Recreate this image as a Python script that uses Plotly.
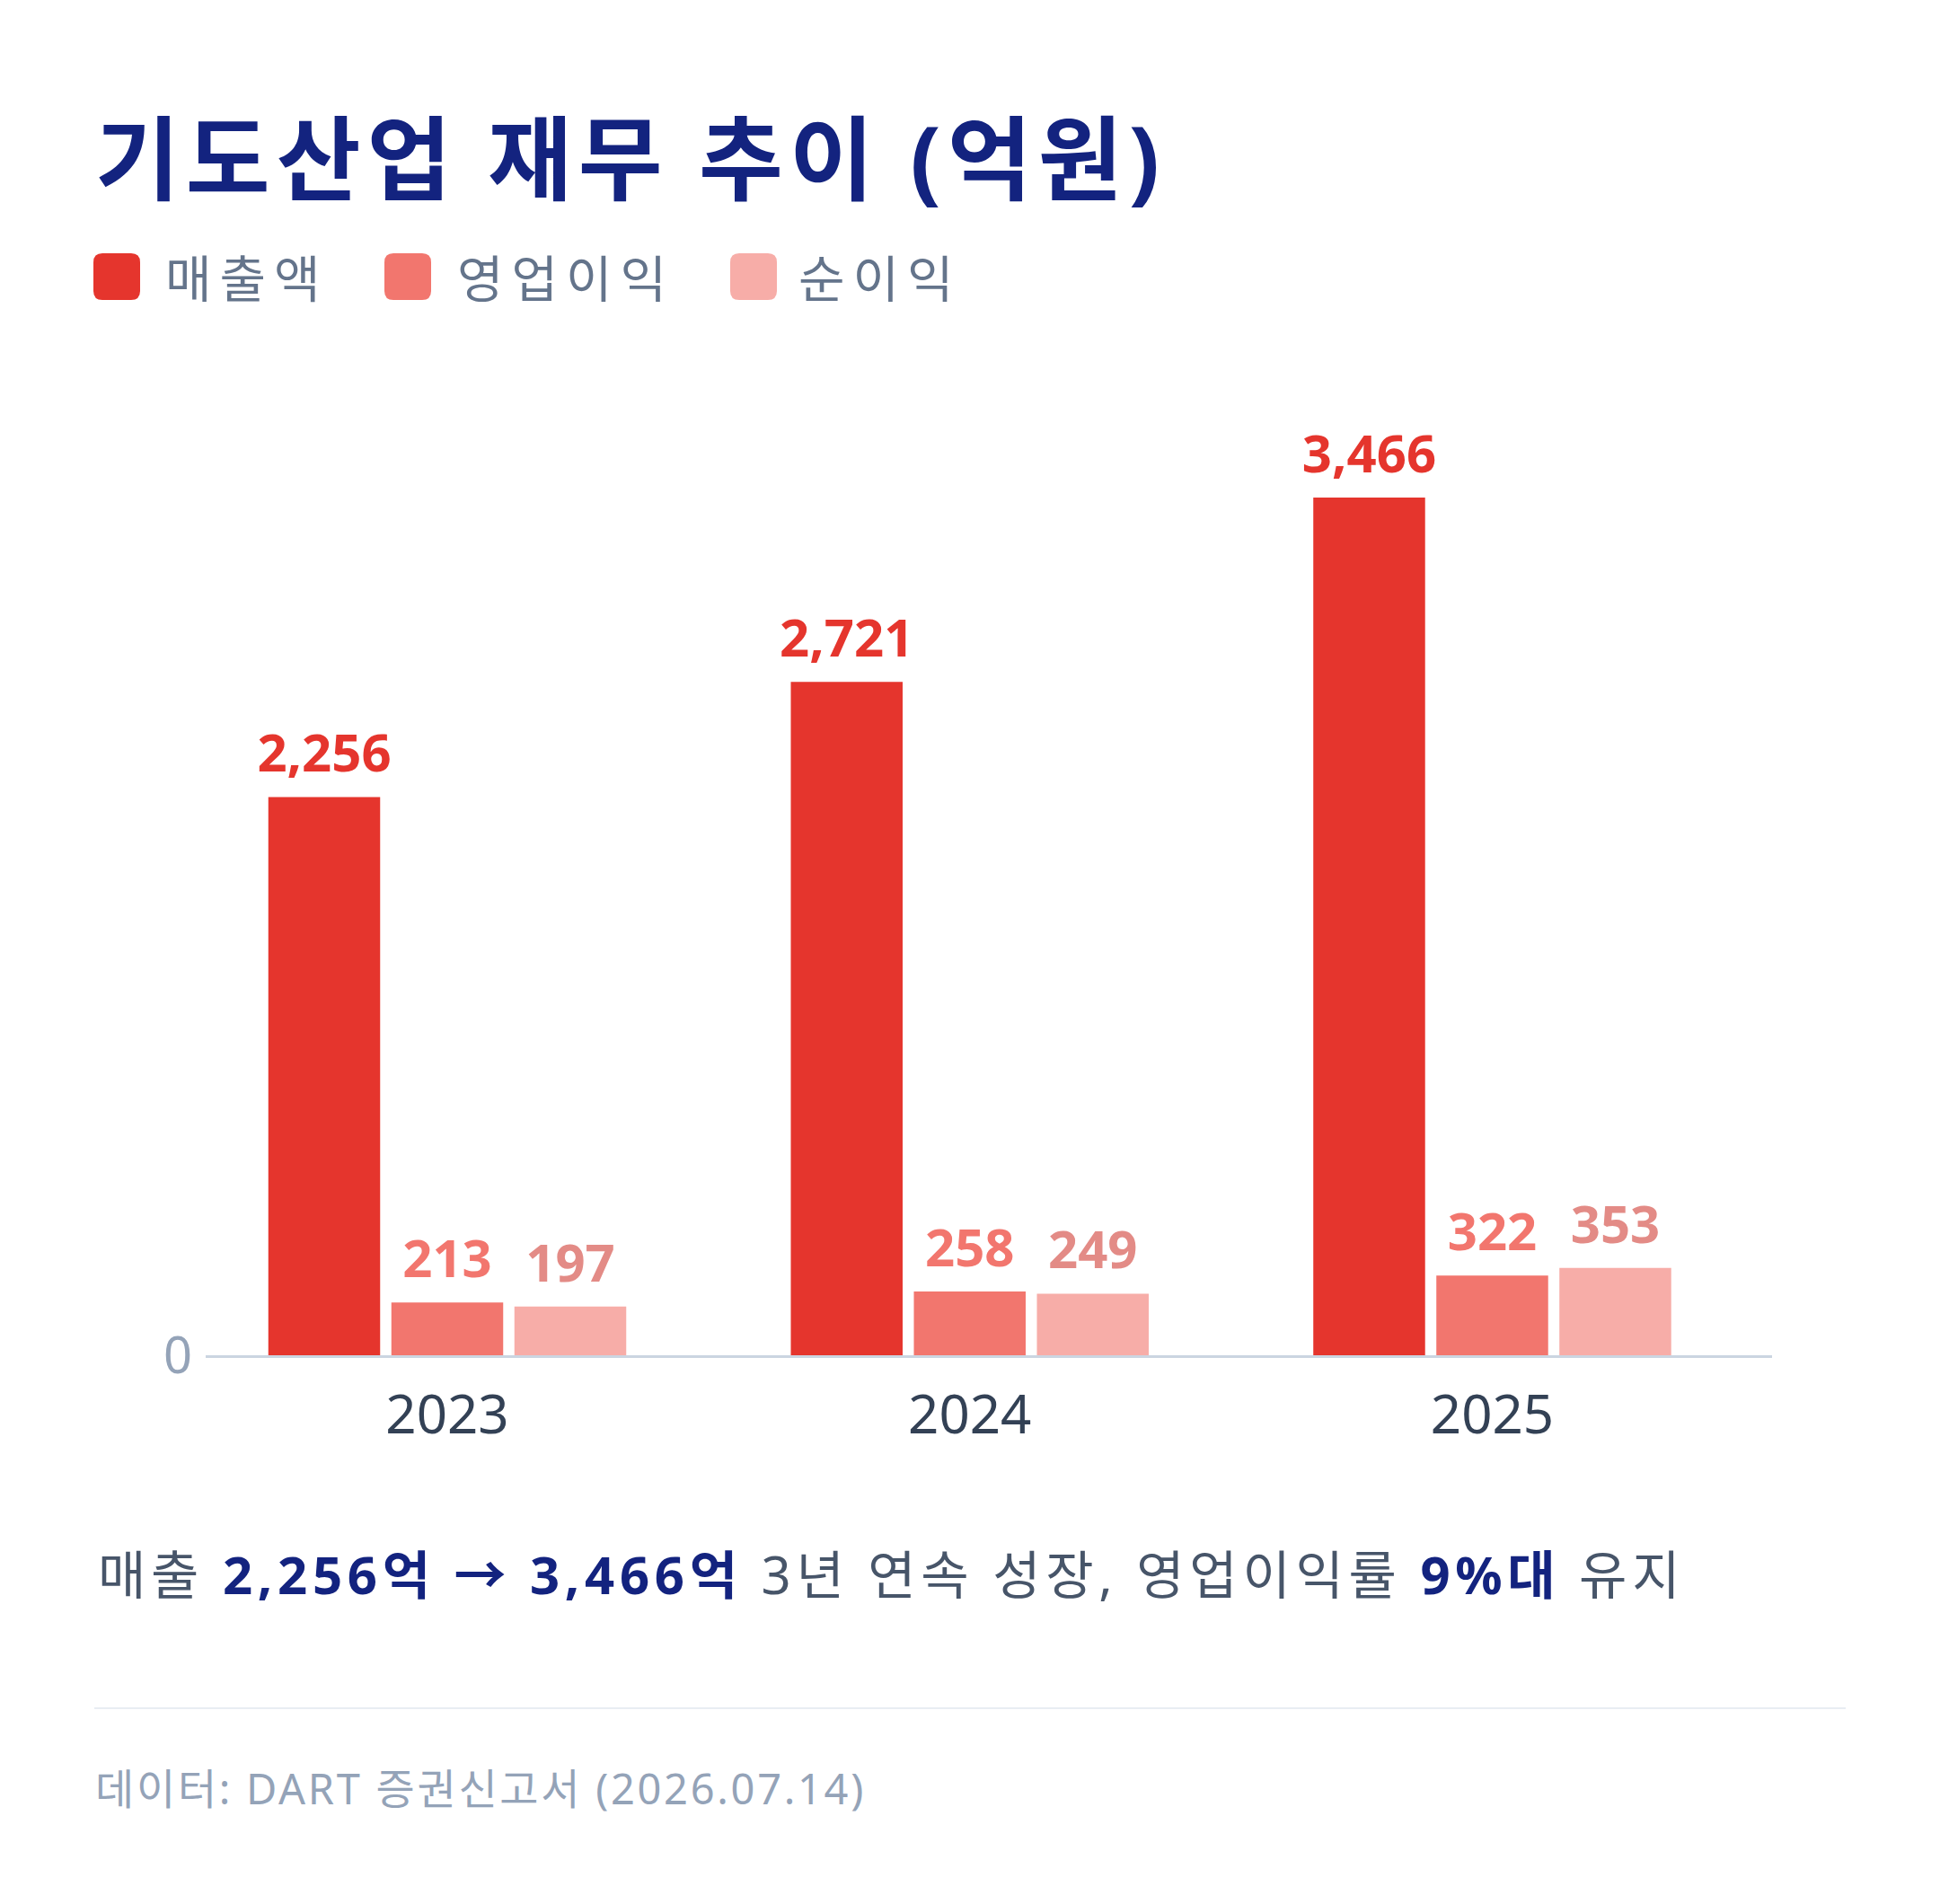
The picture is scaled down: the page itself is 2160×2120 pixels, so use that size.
import plotly.graph_objects as go

# ---- data ----
years = ["2023", "2024", "2025"]
series_names = ["매출액", "영업이익", "순이익"]
revenue = [2256, 2721, 3466]
op_income = [213, 258, 322]
net_income = [197, 249, 353]

bar_colors = ["#E5352D", "#F2766E", "#F7ADA8"]
label_colors = ["#E5352D", "#F2766E", "#E38B86"]

title_text = "기도산업 재무 추이 (억원)"
# subtitle segments: (text, bold)
subtitle_parts = [("매출 ", False), ("2,256억 → 3,466억", True), (" 3년 연속 성장, 영업이익률 ", False),
                  ("9%대", True), (" 유지", False)]
footer_text = "데이터: DART 증권신고서 (2026.07.14)"

W, H = 2160, 2120
L, R = 229, 1973          # plot area in pixels
T, B = 407, 1509
FONT = "Noto Sans, Noto Sans CJK KR, sans-serif"
BARGAP = 0.2935


def px(x):
    return (x - L) / (R - L)


def py(y):
    return (B - y) / (B - T)


def spaced(text, ls, color=None):
    style = f"letter-spacing:{ls}px"
    if color:
        style += f";color:{color}"
    return f"<span style='{style}'>{text}</span>"


fig = go.Figure()
all_vals = [revenue, op_income, net_income]
for name, vals, bc in zip(series_names, all_vals, bar_colors):
    fig.add_trace(go.Bar(
        x=years, y=vals, name=name,
        marker=dict(color=bc, line=dict(width=0)),
        showlegend=False, hoverinfo="skip",
    ))

# value labels (grouped scatter text aligned with the bars)
for name, vals, lc in zip(series_names, all_vals, label_colors):
    fig.add_trace(go.Scatter(
        x=years, y=vals, name=name + " 값",
        mode="markers+text",
        marker=dict(size=20, opacity=0),
        texttemplate="%{y:,}", textposition="top center",
        textfont=dict(family=FONT, size=58, color=lc, weight="bold"),
        cliponaxis=False, showlegend=False, hoverinfo="skip",
    ))

annotations = []
shapes = []

# title
annotations.append(dict(
    text="<b>" + spaced(title_text, 7) + "</b>", x=px(104), y=py(175), xref="paper", yref="paper",
    xanchor="left", yanchor="middle", showarrow=False,
    font=dict(family=FONT, size=102, color="#13237F"),
))

# legend (custom)
legend_items = [(104, 186), (428, 511), (813, 891)]
for (sx, tx), name, col in zip(legend_items, series_names, bar_colors):
    x0, x1 = sx, sx + 52
    y0, y1 = 282, 334
    r = 10
    path = (f"M {px(x0 + r)} {py(y0)} L {px(x1 - r)} {py(y0)} "
            f"Q {px(x1)} {py(y0)} {px(x1)} {py(y0 + r)} "
            f"L {px(x1)} {py(y1 - r)} Q {px(x1)} {py(y1)} {px(x1 - r)} {py(y1)} "
            f"L {px(x0 + r)} {py(y1)} Q {px(x0)} {py(y1)} {px(x0)} {py(y1 - r)} "
            f"L {px(x0)} {py(y0 + r)} Q {px(x0)} {py(y0)} {px(x0 + r)} {py(y0)} Z")
    shapes.append(dict(type="path", path=path, xref="paper", yref="paper",
                       fillcolor=col, line=dict(width=0)))
    annotations.append(dict(
        text=spaced(name, 9), x=px(tx - 4), y=py(309), xref="paper", yref="paper",
        xanchor="left", yanchor="middle", showarrow=False,
        font=dict(family=FONT, size=56, color="#64748B"),
    ))

# subtitle
sub_html = "".join(
    ("<b>" + spaced(t, 5.7, "#13237F") + "</b>") if b else spaced(t, 5.7)
    for t, b in subtitle_parts
)
annotations.append(dict(
    text=sub_html, x=px(107), y=py(1752), xref="paper", yref="paper",
    xanchor="left", yanchor="middle", showarrow=False,
    font=dict(family=FONT, size=58, color="#475569"),
))

# divider
shapes.append(dict(type="line", xref="paper", yref="paper",
                   x0=px(105), x1=px(2055), y0=py(1902), y1=py(1902),
                   line=dict(color="#E8EDF3", width=2)))

# footer
annotations.append(dict(
    text=spaced(footer_text, 2.7), x=px(104), y=py(1991), xref="paper", yref="paper",
    xanchor="left", yanchor="middle", showarrow=False,
    font=dict(family=FONT, size=47, color="#94A3B8"),
))

fig.update_layout(
    width=W, height=H,
    margin=dict(l=L, r=W - R, t=T, b=H - B, pad=0),
    paper_bgcolor="white", plot_bgcolor="white",
    barmode="group", bargap=BARGAP, bargroupgap=0.0913,
    scattermode="group", scattergap=BARGAP,
    showlegend=False,
    font=dict(family=FONT),
    annotations=annotations, shapes=shapes,
    xaxis=dict(
        type="category", range=[-0.4624, 2.5355],
        showline=True, linecolor="#CBD5E1", linewidth=3,
        showgrid=False, zeroline=False, ticks="",
        tickfont=dict(family=FONT, size=60, color="#334155"),
        ticklabelstandoff=12,
    ),
    yaxis=dict(
        range=[0, 4000], showgrid=False, zeroline=False, showline=False,
        tickvals=[0], ticktext=["0"], ticks="",
        tickfont=dict(family=FONT, size=56, color="#94A3B8"),
        ticklabelstandoff=14,
    ),
)

fig.write_html("out.html")
